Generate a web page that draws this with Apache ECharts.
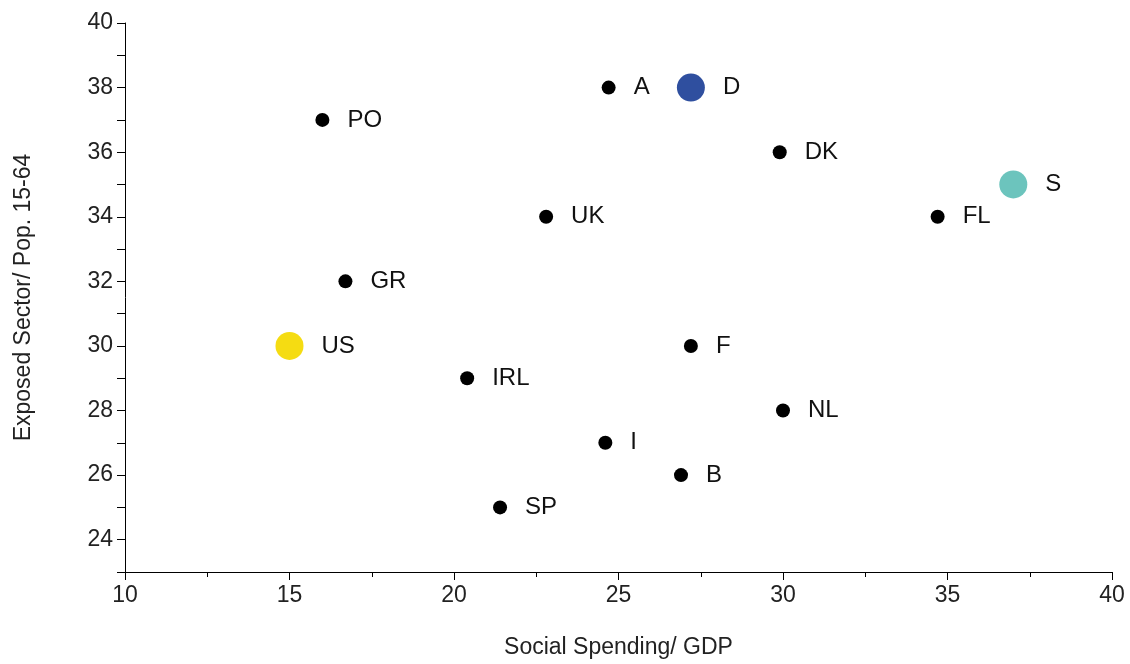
<!DOCTYPE html>
<html><head><meta charset="utf-8">
<script src="https://cdn.jsdelivr.net/npm/echarts@6/dist/echarts.min.js"></script>
<style>html,body{margin:0;background:#fff}#c{width:1130px;height:664px}</style>
</head><body><div id="c"></div>
<script>
var countries = ['A','D','PO','DK','S','FL','UK','GR','US','F','IRL','NL','I','B','SP'];
var spending = [24.7,27.2,16.0,29.9,37.0,34.7,22.8,16.7,15.0,27.2,20.4,30.0,24.6,26.9,21.4];
var exposed = [38,38,37,36,35,34,34,32,30,30,29,28,27,26,25];
var special = {D:'#2f4f9f', S:'#6cc4bd', US:'#f5dc12'};

var pts = countries.map(function (c, i) {
    var col = special[c];
    return {
        value: [spending[i], exposed[i]], name: c,
        symbolSize: col ? 28 : 14,
        itemStyle: {color: col || '#000', opacity: 1}
    };
});
var axisText = {fontFamily: 'Liberation Sans', fontSize: 23, color: '#222'};
var chart = echarts.init(document.getElementById('c'));
chart.setOption({
    animation: false,
    grid: {left: 125, right: 18, top: 23, bottom: 92},
    xAxis: {
        type: 'value', min: 10, max: 40, interval: 5,
        name: 'Social Spending/ GDP', nameLocation: 'middle', nameGap: 64,
        nameTextStyle: axisText,
        axisLine: {lineStyle: {color: '#000'}},
        axisTick: {length: 8, lineStyle: {color: '#000'}},
        minorTick: {show: true, splitNumber: 2, length: 5, lineStyle: {color: '#000'}},
        axisLabel: Object.assign({margin: 12}, axisText),
        splitLine: {show: false}
    },
    yAxis: {
        type: 'value', min: 23, max: 40, interval: 1,
        name: 'Exposed Sector/ Pop. 15-64', nameLocation: 'middle', nameGap: 90,
        nameTextStyle: axisText,
        axisLine: {show: true, lineStyle: {color: '#000'}},
        axisTick: {length: 8, lineStyle: {color: '#000'}},
        axisLabel: Object.assign({margin: 12, formatter: function (v) { return v % 2 === 0 ? v : ''; }}, axisText),
        splitLine: {show: false}
    },
    series: [{
        type: 'scatter', data: pts,
        label: {show: true, position: 'right', distance: 18, formatter: '{b}',
            fontFamily: 'Liberation Sans', fontSize: 24, color: '#111'}
    }]
});
</script></body></html>
